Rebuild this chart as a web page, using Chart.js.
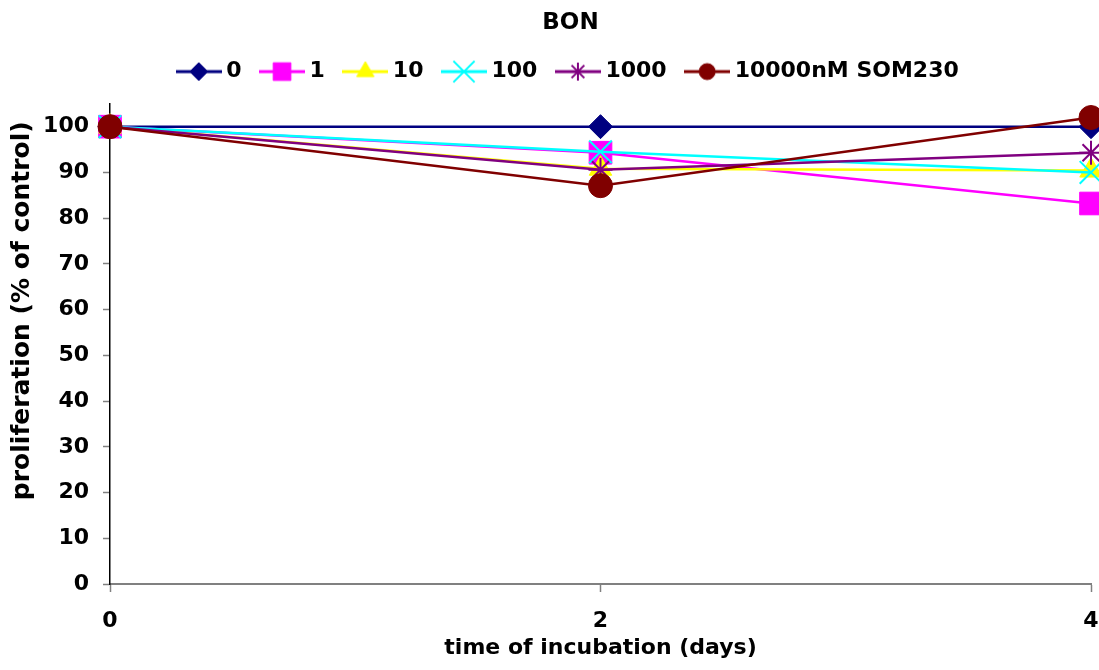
<!DOCTYPE html>
<html>
<head>
<meta charset="utf-8">
<script src="https://cdn.jsdelivr.net/npm/chart.js@4"></script>
<style>
  html, body { margin: 0; padding: 0; background: #fff; }
  #wrap { width: 1099px; height: 670px; }
</style>
</head>
<body>
<div id="wrap"><canvas id="grafica" width="1099" height="670"></canvas></div>
<script>
// datos
const dias = [0, 2, 4];
const serieNombres = ['0', '1', '10', '100', '1000', '10000nM SOM230'];
const s0 = [100, 100, 100];
const s1 = [100, 94.3, 83.2];
const s10 = [100, 90.8, 90.4];
const s100 = [100, 94.5, 90];
const s1000 = [100, 90.6, 94.3];
const s10000 = [100, 87.1, 102];
const yTicks = [0, 10, 20, 30, 40, 50, 60, 70, 80, 90, 100];
const xTicks = [0, 2, 4];

const colores = ['#000080', '#ff00ff', '#ffff00', '#00ffff', '#800080', '#800000'];
const estilos = ['rectRot', 'rect', 'triangle', 'crossRot', 'star', 'circle'];
const radios = [12, 16, 13, 16, 12, 12];
const radiosLeyenda = [9, 12.5, 10, 15, 9, 8];
const valores = [s0, s1, s10, s100, s1000, s10000];
const fuente = "'DejaVu Sans', sans-serif";
const margenIzq = 42;

function esLinea(st) { return st === 'crossRot' || st === 'star'; }

// icono de leyenda: linea con marcador
function iconoLeyenda(i) {
  const c = document.createElement('canvas');
  c.width = 46; c.height = 24;
  const ctx = c.getContext('2d');
  ctx.strokeStyle = colores[i];
  ctx.lineWidth = 3;
  ctx.beginPath(); ctx.moveTo(0, 12); ctx.lineTo(46, 12); ctx.stroke();
  ctx.fillStyle = colores[i];
  const bw = esLinea(estilos[i]) ? 2 : 1;
  ctx.lineWidth = bw;
  Chart.helpers.drawPoint(ctx, { pointStyle: estilos[i], rotation: 0, radius: radiosLeyenda[i], borderWidth: bw }, 23, 12);
  return c;
}

const datasets = valores.map((v, i) => ({
  label: serieNombres[i],
  data: dias.map((d, k) => ({ x: d, y: v[k] })),
  borderColor: colores[i],
  backgroundColor: colores[i],
  borderWidth: 2.5,
  pointStyle: estilos[i],
  pointRadius: radios[i],
  pointBorderWidth: esLinea(estilos[i]) ? 2 : 1,
  pointBorderColor: colores[i],
  pointBackgroundColor: colores[i],
  tension: 0,
  clip: false,
  order: valores.length - i
}));

new Chart(document.getElementById('grafica'), {
  type: 'line',
  data: { datasets: datasets },
  options: {
    responsive: false,
    animation: false,
    layout: { autoPadding: false, padding: { left: margenIzq, right: 0, top: 0, bottom: 0 } },
    plugins: {
      tooltip: { enabled: false },
      title: {
        display: true,
        text: 'BON',
        color: '#000',
        font: { family: fuente, size: 23, weight: 'bold' },
        padding: { top: 9, bottom: 0 }
      },
      // separador vacio entre leyenda y grafico
      subtitle: {
        display: true,
        text: '',
        weight: 500,
        font: { size: 1 },
        padding: { top: 10, bottom: 0 }
      },
      legend: {
        display: true,
        labels: {
          color: '#000',
          font: { family: fuente, size: 22, weight: 'bold' },
          usePointStyle: true,
          pointStyleWidth: 33,
          padding: 24,
          generateLabels: function(chart) {
            return serieNombres.map((n, i) => ({
              text: n,
              pointStyle: iconoLeyenda(i),
              fillStyle: colores[i],
              strokeStyle: colores[i],
              lineWidth: 0,
              datasetIndex: i,
              hidden: false
            }));
          }
        }
      }
    },
    scales: {
      x: {
        type: 'linear',
        min: 0,
        max: 4,
        afterBuildTicks: s => { s.ticks = xTicks.map(v => ({ value: v })); },
        afterFit: s => { s.height = 86; s.paddingRight = 8; s.paddingLeft = 0; },
        grid: { display: true, drawOnChartArea: false, drawTicks: true, tickLength: 8, tickColor: '#808080', tickWidth: 1.5 },
        border: { color: '#808080', width: 2 },
        ticks: { color: '#000', font: { family: fuente, size: 22, weight: 'bold' }, padding: 16, maxRotation: 0 },
        title: {
          display: true,
          text: 'time of incubation (days)',
          color: '#000',
          font: { family: fuente, size: 22, weight: 'bold' },
          padding: { top: 0, bottom: 9 }
        }
      },
      y: {
        min: 0,
        max: 105,
        afterBuildTicks: s => { s.ticks = yTicks.map(v => ({ value: v })); },
        afterFit: s => { s.width = 110 - margenIzq; s.paddingTop = 0; s.paddingBottom = 0; },
        grid: { display: true, drawOnChartArea: false, drawTicks: true, tickLength: 7, tickColor: '#808080', tickWidth: 1.5 },
        border: { color: '#000', width: 1.5 },
        ticks: { color: '#000', font: { family: fuente, size: 22, weight: 'bold' }, padding: 14 },
        title: {
          display: true,
          text: 'proliferation (% of control)  ',
          align: 'end',
          color: '#000',
          font: { family: fuente, size: 25, weight: 'bold' },
          padding: { top: 7 - margenIzq, bottom: 0 }
        }
      }
    }
  }
});
</script>
</body>
</html>
